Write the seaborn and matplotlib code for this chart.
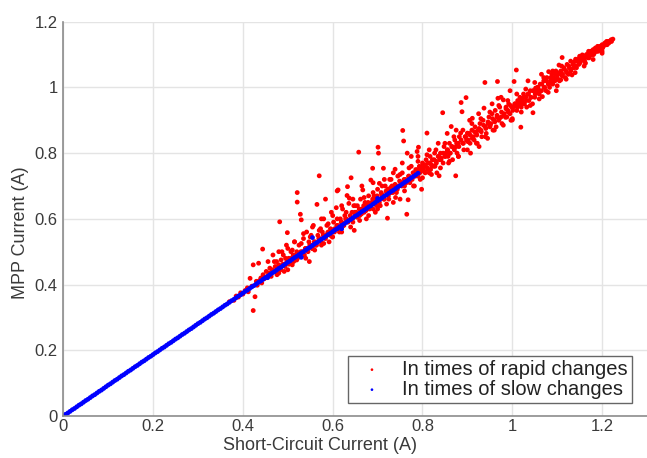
import numpy as np
import pandas as pd
import matplotlib
matplotlib.use('Agg')
import matplotlib.pyplot as plt
import seaborn as sns

# red points: tracking during rapid changes (grouped by x)
red_x = [
    0.37, 0.38, 0.385, 0.39, 0.395, 0.40,
    0.405, 0.41, 0.412, 0.416, 0.42, 0.423, 0.423, 0.427, 0.43, 0.432, 0.435, 0.437, 0.44, 0.442, 0.444, 0.445, 0.448,
    0.452, 0.455, 0.456, 0.46, 0.462, 0.465, 0.467, 0.47, 0.472, 0.475, 0.476, 0.48, 0.482, 0.483, 0.485, 0.487, 0.49, 0.492, 0.495, 0.497, 0.499, 0.5,
    0.502, 0.505, 0.507, 0.51, 0.512, 0.515, 0.517, 0.52, 0.521, 0.521, 0.523, 0.525, 0.527, 0.528, 0.53, 0.532, 0.535, 0.537, 0.54, 0.542, 0.545, 0.547, 0.55, 0.548,
    0.552, 0.555, 0.557, 0.56, 0.562, 0.565, 0.567, 0.57, 0.571, 0.573, 0.575, 0.577, 0.58, 0.582, 0.584, 0.585, 0.587, 0.59, 0.592, 0.595, 0.597, 0.6, 0.599,
    0.602, 0.605, 0.608, 0.61, 0.611, 0.612, 0.615, 0.617, 0.62, 0.622, 0.625, 0.627, 0.63, 0.632, 0.633, 0.636, 0.637, 0.64, 0.641, 0.643, 0.645, 0.647, 0.65, 0.648,
    0.652, 0.655, 0.658, 0.66, 0.662, 0.665, 0.667, 0.67, 0.672, 0.675, 0.677, 0.68, 0.682, 0.685, 0.687, 0.689, 0.69, 0.692, 0.695, 0.697, 0.7, 0.698,
    0.701, 0.702, 0.703, 0.704, 0.706, 0.708, 0.71, 0.713, 0.715, 0.717, 0.72, 0.722, 0.723, 0.725, 0.727, 0.73, 0.732, 0.735, 0.737, 0.739, 0.74, 0.742, 0.745, 0.747, 0.75,
    0.752, 0.755, 0.756, 0.758, 0.76, 0.762, 0.765, 0.766, 0.768, 0.77, 0.772, 0.775, 0.777, 0.78, 0.782, 0.785, 0.788, 0.79, 0.791, 0.793, 0.795, 0.797, 0.8, 0.798,
    0.802, 0.804, 0.806, 0.808, 0.81, 0.811, 0.813, 0.815, 0.817, 0.82, 0.822, 0.825, 0.827, 0.83, 0.832, 0.835, 0.837, 0.838, 0.84, 0.842, 0.845, 0.846, 0.848, 0.85, 0.828, 0.818,
    0.852, 0.855, 0.857, 0.86, 0.862, 0.864, 0.865, 0.867, 0.87, 0.872, 0.874, 0.875, 0.877, 0.88, 0.882, 0.885, 0.886, 0.888, 0.89, 0.892, 0.895, 0.897, 0.898, 0.9, 0.858, 0.88,
    0.902, 0.904, 0.906, 0.907, 0.91, 0.911, 0.913, 0.915, 0.917, 0.92, 0.922, 0.924, 0.926, 0.928, 0.93, 0.932, 0.935, 0.937, 0.939, 0.94, 0.942, 0.945, 0.946, 0.948, 0.95,
    0.952, 0.955, 0.957, 0.96, 0.962, 0.964, 0.966, 0.967, 0.968, 0.97, 0.972, 0.975, 0.977, 0.98, 0.982, 0.985, 0.986, 0.988, 0.99, 0.992, 0.995, 0.997, 1.0, 0.999,
    1.002, 1.004, 1.006, 1.009, 1.01, 1.012, 1.015, 1.017, 1.019, 1.019, 1.02, 1.022, 1.025, 1.027, 1.03, 1.032, 1.035, 1.037, 1.04, 1.042, 1.045, 1.046, 1.048, 1.05, 1.052,
    1.055, 1.057, 1.06, 1.062, 1.065, 1.067, 1.07, 1.072, 1.075, 1.077, 1.08, 1.081, 1.083, 1.085, 1.088, 1.09, 1.092, 1.095, 1.097, 1.1, 1.104, 1.098,
    1.102, 1.105, 1.108, 1.108, 1.111, 1.112, 1.115, 1.118, 1.12, 1.122, 1.125, 1.127, 1.13, 1.133, 1.135, 1.137, 1.14, 1.141, 1.143, 1.145, 1.148, 1.15,
    1.152, 1.155, 1.156, 1.158, 1.16, 1.163, 1.165, 1.168, 1.17, 1.172, 1.175, 1.178, 1.18, 1.183, 1.185, 1.188, 1.19, 1.193, 1.195, 1.198, 1.2, 1.2,
    1.203, 1.205, 1.208, 1.21, 1.213, 1.215, 1.218, 1.22, 1.224,
]
red_y = [
    0.348, 0.352, 0.365, 0.362, 0.375, 0.371,
    0.382, 0.39, 0.378, 0.419, 0.395, 0.321, 0.46, 0.363, 0.41, 0.398, 0.465, 0.412, 0.42, 0.405, 0.508, 0.43, 0.418,
    0.44, 0.425, 0.47, 0.45, 0.43, 0.445, 0.49, 0.44, 0.455, 0.47, 0.43, 0.46, 0.591, 0.45, 0.475, 0.50, 0.46, 0.44, 0.48, 0.52, 0.558, 0.465,
    0.48, 0.47, 0.50, 0.46, 0.49, 0.53, 0.475, 0.50, 0.68, 0.651, 0.49, 0.52, 0.485, 0.614, 0.597, 0.50, 0.54, 0.49, 0.51, 0.56, 0.50, 0.53, 0.52, 0.47,
    0.55, 0.51, 0.58, 0.53, 0.52, 0.644, 0.55, 0.731, 0.54, 0.57, 0.52, 0.56, 0.60, 0.545, 0.66, 0.55, 0.58, 0.56, 0.53, 0.57, 0.62, 0.56, 0.545,
    0.59, 0.57, 0.634, 0.685, 0.58, 0.688, 0.56, 0.60, 0.59, 0.63, 0.58, 0.61, 0.60, 0.671, 0.698, 0.647, 0.663, 0.60, 0.725, 0.62, 0.59, 0.64, 0.61, 0.565,
    0.62, 0.64, 0.803, 0.61, 0.66, 0.63, 0.688, 0.62, 0.65, 0.60, 0.64, 0.67, 0.63, 0.718, 0.65, 0.754, 0.63, 0.67, 0.62, 0.66, 0.69, 0.64,
    0.818, 0.80, 0.66, 0.708, 0.64, 0.68, 0.67, 0.754, 0.66, 0.70, 0.68, 0.602, 0.69, 0.66, 0.72, 0.68, 0.70, 0.65, 0.69, 0.751, 0.70, 0.68, 0.73, 0.70, 0.66,
    0.71, 0.74, 0.869, 0.837, 0.70, 0.72, 0.614, 0.80, 0.658, 0.73, 0.71, 0.76, 0.72, 0.74, 0.70, 0.75, 0.805, 0.73, 0.818, 0.76, 0.72, 0.75, 0.77, 0.69,
    0.75, 0.76, 0.74, 0.78, 0.861, 0.755, 0.77, 0.74, 0.79, 0.765, 0.78, 0.76, 0.80, 0.775, 0.74, 0.79, 0.731, 0.78, 0.80, 0.785, 0.923, 0.77, 0.82, 0.79, 0.76, 0.75,
    0.80, 0.81, 0.79, 0.83, 0.80, 0.881, 0.82, 0.78, 0.815, 0.84, 0.731, 0.82, 0.80, 0.83, 0.85, 0.861, 0.954, 0.926, 0.83, 0.81, 0.85, 0.969, 0.84, 0.861, 0.77, 0.79,
    0.84, 0.86, 0.83, 0.80, 0.87, 0.906, 0.85, 0.84, 0.88, 0.86, 0.83, 0.87, 0.82, 0.89, 0.87, 0.85, 0.90, 0.937, 1.015, 0.88, 0.86, 0.845, 0.89, 0.91, 0.88,
    0.89, 0.92, 0.87, 0.90, 0.93, 0.88, 0.91, 1.018, 0.967, 0.90, 0.94, 0.91, 0.89, 0.962, 0.92, 0.909, 0.94, 0.91, 0.93, 0.95, 0.92, 0.90, 0.901, 0.94,
    0.94, 1.018, 0.95, 1.053, 0.93, 0.96, 0.95, 0.97, 0.962, 0.879, 0.94, 0.96, 0.98, 0.95, 0.97, 0.94, 0.98, 0.96, 0.99, 0.97, 0.95, 0.923, 0.99, 0.97, 0.998,
    0.99, 1.00, 0.98, 1.01, 0.99, 0.972, 1.02, 1.00, 0.99, 1.03, 1.01, 1.048, 1.00, 1.02, 1.04, 1.01, 1.03, 1.02, 1.05, 1.03, 1.068, 0.99,
    1.04, 1.02, 1.023, 1.05, 1.091, 1.04, 1.06, 1.03, 1.05, 1.07, 1.04, 1.06, 1.05, 1.038, 1.07, 1.06, 1.08, 1.086, 1.06, 1.08, 1.07, 1.09,
    1.08, 1.095, 1.099, 1.085, 1.09, 1.074, 1.10, 1.09, 1.105, 1.095, 1.11, 1.10, 1.115, 1.105, 1.12, 1.11, 1.12, 1.115, 1.125, 1.12, 1.104, 1.13,
    1.125, 1.13, 1.135, 1.13, 1.14, 1.135, 1.14, 1.145, 1.147,
]

# extra red points packed tightly along the main band
band_x = [
    0.458, 0.463, 0.468, 0.473, 0.478, 0.484, 0.489, 0.494, 0.498,
    0.503, 0.508, 0.513, 0.518, 0.524, 0.529, 0.534, 0.539, 0.544, 0.549, 0.554, 0.559, 0.564, 0.569, 0.574, 0.579, 0.584, 0.589, 0.594, 0.598,
    0.604, 0.609, 0.614, 0.619, 0.624, 0.629, 0.634, 0.639, 0.644, 0.649, 0.654, 0.659, 0.664, 0.669, 0.674, 0.679, 0.684, 0.689, 0.694, 0.699,
    0.704, 0.709, 0.714, 0.719, 0.724, 0.729, 0.734, 0.739, 0.744, 0.749, 0.754, 0.759, 0.764, 0.769, 0.774, 0.779, 0.784, 0.789, 0.794, 0.799,
    0.803, 0.807, 0.812, 0.816, 0.821, 0.826, 0.831, 0.836, 0.841, 0.846, 0.851, 0.856, 0.861, 0.866, 0.871, 0.876, 0.881, 0.886, 0.891, 0.896,
    0.901, 0.906, 0.911, 0.916, 0.921, 0.926, 0.931, 0.936, 0.941, 0.946, 0.951, 0.956, 0.961, 0.966, 0.971, 0.976, 0.981, 0.986, 0.991, 0.996,
    1.001, 1.006, 1.011, 1.016, 1.021, 1.026, 1.031, 1.036, 1.041, 1.046, 1.051, 1.056, 1.061, 1.066, 1.071, 1.076, 1.081, 1.086, 1.091, 1.096,
    1.101, 1.106, 1.111, 1.116, 1.121, 1.126, 1.131, 1.136, 1.141, 1.146, 1.151, 1.156, 1.161, 1.166, 1.171, 1.176, 1.181, 1.186, 1.191, 1.196,
    1.201, 1.206, 1.211, 1.216, 1.221,
]
band_y = [
    0.435, 0.425, 0.442, 0.438, 0.455, 0.445, 0.462, 0.455, 0.47,
    0.462, 0.48, 0.47, 0.49, 0.483, 0.50, 0.49, 0.51, 0.505, 0.52, 0.51, 0.53, 0.52, 0.54, 0.53, 0.55, 0.54, 0.558, 0.55, 0.567,
    0.56, 0.58, 0.57, 0.59, 0.58, 0.60, 0.59, 0.61, 0.60, 0.62, 0.605, 0.63, 0.615, 0.64, 0.625, 0.65, 0.635, 0.66, 0.645, 0.67,
    0.65, 0.675, 0.66, 0.685, 0.67, 0.695, 0.68, 0.705, 0.69, 0.715, 0.70, 0.72, 0.71, 0.73, 0.72, 0.74, 0.73, 0.75, 0.74, 0.76,
    0.745, 0.765, 0.75, 0.77, 0.76, 0.78, 0.77, 0.79, 0.78, 0.80, 0.79, 0.81, 0.80, 0.82, 0.81, 0.83, 0.82, 0.84, 0.83, 0.85,
    0.835, 0.855, 0.845, 0.865, 0.855, 0.875, 0.865, 0.885, 0.875, 0.895, 0.885, 0.905, 0.895, 0.915, 0.905, 0.925, 0.915, 0.935, 0.925, 0.945,
    0.93, 0.95, 0.94, 0.96, 0.95, 0.97, 0.96, 0.98, 0.97, 0.99, 0.98, 1.0, 0.99, 1.01, 1.0, 1.02, 1.01, 1.03, 1.02, 1.04,
    1.025, 1.045, 1.035, 1.055, 1.045, 1.065, 1.055, 1.075, 1.065, 1.085, 1.075, 1.09, 1.08, 1.095, 1.09, 1.105, 1.10, 1.115, 1.11, 1.125,
    1.12, 1.135, 1.13, 1.14, 1.14,
]

# looser red points on both sides of the band
spread_x = [
    0.47, 0.48, 0.49, 0.50, 0.51, 0.52, 0.53, 0.54, 0.55, 0.56, 0.57, 0.58, 0.59, 0.60, 0.61, 0.62, 0.63, 0.64, 0.65, 0.66,
    0.67, 0.68, 0.69, 0.70, 0.71, 0.72, 0.73, 0.74, 0.75, 0.76, 0.77, 0.78, 0.79, 0.80, 0.81, 0.82, 0.83, 0.84, 0.85, 0.86,
    0.87, 0.88, 0.89, 0.90, 0.91, 0.92, 0.93, 0.94, 0.95, 0.96, 0.97, 0.98, 0.99, 1.00, 1.01, 1.02, 1.03, 1.04, 1.05, 1.06,
    1.07, 1.08, 1.09, 1.10, 1.11, 1.12, 1.13, 1.14, 1.15, 1.16, 1.17, 1.18, 1.19, 1.20, 1.21,
    0.835, 0.855, 0.875, 0.905, 0.925, 0.955, 0.975, 0.995, 1.035, 1.065, 0.815, 0.79, 0.775, 0.755,
    0.735, 0.715, 0.69, 0.665, 0.645, 0.62, 0.60, 0.575, 0.555, 0.535, 0.515, 0.50, 0.48,
]
spread_y = [
    0.47, 0.435, 0.49, 0.445, 0.505, 0.475, 0.525, 0.48, 0.545, 0.505, 0.565, 0.525, 0.585, 0.545, 0.60, 0.56, 0.62, 0.575, 0.64, 0.595,
    0.665, 0.61, 0.68, 0.63, 0.70, 0.645, 0.72, 0.665, 0.735, 0.685, 0.755, 0.70, 0.775, 0.725, 0.795, 0.735, 0.81, 0.755, 0.83, 0.775,
    0.85, 0.79, 0.87, 0.81, 0.89, 0.83, 0.905, 0.85, 0.925, 0.87, 0.945, 0.885, 0.96, 0.905, 0.98, 0.925, 0.995, 0.945, 1.015, 0.965,
    1.03, 0.985, 1.05, 1.005, 1.065, 1.025, 1.08, 1.045, 1.095, 1.065, 1.11, 1.085, 1.125, 1.11, 1.14,
    0.83, 0.86, 0.87, 0.90, 0.92, 0.95, 0.97, 0.99, 1.02, 1.04, 0.81, 0.79, 0.79, 0.77,
    0.74, 0.72, 0.71, 0.70, 0.66, 0.64, 0.61, 0.60, 0.575, 0.555, 0.53, 0.51, 0.50,
]

# blue points: tracking during slow changes
blue_x = [
    0.00, 0.01, 0.02, 0.03, 0.04, 0.05, 0.06, 0.07, 0.08, 0.09,
    0.10, 0.11, 0.12, 0.13, 0.14, 0.15, 0.16, 0.17, 0.18, 0.19,
    0.20, 0.21, 0.22, 0.23, 0.24, 0.25, 0.26, 0.27, 0.28, 0.29,
    0.30, 0.31, 0.32, 0.33, 0.34, 0.35, 0.36, 0.37, 0.38, 0.39,
    0.40, 0.41, 0.42, 0.43, 0.44, 0.45, 0.46, 0.47, 0.48, 0.49,
    0.50, 0.51, 0.52, 0.53, 0.54, 0.55, 0.56, 0.57, 0.58, 0.59,
    0.60, 0.61, 0.62, 0.63, 0.64, 0.65, 0.66, 0.67, 0.68, 0.69,
    0.70, 0.71, 0.72, 0.73, 0.74, 0.75, 0.76, 0.77, 0.78, 0.79,
    0.555, 0.530, 0.62, 0.70, 0.455,
]
blue_y = [
    0.000, 0.009, 0.019, 0.028, 0.037, 0.047, 0.056, 0.065, 0.075, 0.084,
    0.094, 0.103, 0.112, 0.122, 0.131, 0.140, 0.150, 0.159, 0.168, 0.178,
    0.187, 0.196, 0.206, 0.215, 0.224, 0.234, 0.243, 0.252, 0.262, 0.271,
    0.281, 0.290, 0.299, 0.309, 0.318, 0.327, 0.337, 0.346, 0.355, 0.365,
    0.374, 0.383, 0.393, 0.402, 0.411, 0.421, 0.430, 0.439, 0.449, 0.458,
    0.468, 0.477, 0.486, 0.496, 0.505, 0.514, 0.524, 0.533, 0.542, 0.552,
    0.561, 0.570, 0.580, 0.589, 0.598, 0.608, 0.617, 0.626, 0.636, 0.645,
    0.655, 0.664, 0.673, 0.683, 0.692, 0.701, 0.711, 0.720, 0.729, 0.739,
    0.543, 0.483, 0.570, 0.662, 0.421,
]
blue_x_mid = [
    0.005, 0.015, 0.025, 0.035, 0.045, 0.055, 0.065, 0.075, 0.085, 0.095,
    0.105, 0.115, 0.125, 0.135, 0.145, 0.155, 0.165, 0.175, 0.185, 0.195,
    0.205, 0.215, 0.225, 0.235, 0.245, 0.255, 0.265, 0.275, 0.285, 0.295,
    0.305, 0.315, 0.325, 0.335, 0.345, 0.355, 0.365, 0.375, 0.385, 0.395,
    0.405, 0.415, 0.425, 0.435, 0.445, 0.455, 0.465, 0.475, 0.485, 0.495,
    0.505, 0.515, 0.525, 0.535, 0.545, 0.555, 0.565, 0.575, 0.585, 0.595,
    0.605, 0.615, 0.625, 0.635, 0.645, 0.655, 0.665, 0.675, 0.685, 0.695,
    0.705, 0.715, 0.725, 0.735, 0.745, 0.755, 0.765, 0.775, 0.785,
]
blue_y_mid = [
    0.005, 0.014, 0.023, 0.033, 0.042, 0.051, 0.061, 0.070, 0.079, 0.089,
    0.098, 0.108, 0.117, 0.126, 0.136, 0.145, 0.154, 0.164, 0.173, 0.182,
    0.192, 0.201, 0.210, 0.220, 0.229, 0.238, 0.248, 0.257, 0.266, 0.276,
    0.285, 0.295, 0.304, 0.313, 0.323, 0.332, 0.341, 0.351, 0.360, 0.369,
    0.379, 0.388, 0.397, 0.407, 0.416, 0.425, 0.435, 0.444, 0.453, 0.463,
    0.472, 0.482, 0.491, 0.500, 0.510, 0.519, 0.528, 0.538, 0.547, 0.556,
    0.566, 0.575, 0.584, 0.594, 0.603, 0.612, 0.622, 0.631, 0.640, 0.650,
    0.659, 0.669, 0.678, 0.687, 0.697, 0.706, 0.715, 0.725, 0.734,
]

x_ticks = [0, 0.2, 0.4, 0.6, 0.8, 1.0, 1.2]
x_tick_labels = ['0', '0.2', '0.4', '0.6', '0.8', '1', '1.2']
y_ticks = [0, 0.2, 0.4, 0.6, 0.8, 1.0, 1.2]
y_tick_labels = ['0', '0.2', '0.4', '0.6', '0.8', '1', '1.2']

df_red = pd.DataFrame({'isc': red_x + band_x + spread_x,
                       'impp': red_y + band_y + spread_y})
df_blue = pd.DataFrame({'isc': blue_x + blue_x_mid, 'impp': blue_y + blue_y_mid})

sns.set_style('white')
plt.rcParams['font.family'] = ['Liberation Sans', 'DejaVu Sans']

fig = plt.figure(figsize=(6.47, 4.58), dpi=100)
ax = fig.add_axes([0.0978, 0.0917, 0.9022, 0.8609])

sns.scatterplot(data=df_red, x='isc', y='impp', color='#ff0000', s=12,
                edgecolor='none', linewidth=0, ax=ax,
                label='In times of rapid changes')
sns.scatterplot(data=df_blue, x='isc', y='impp', color='#0000ff', s=12,
                edgecolor='none', linewidth=0, ax=ax,
                label='In times of slow changes')

ax.set_xlim(0, 1.3)
ax.set_ylim(0, 1.2)
ax.set_xticks(x_ticks)
ax.set_xticklabels(x_tick_labels)
ax.set_yticks(y_ticks)
ax.set_yticklabels(y_tick_labels)
ax.grid(True, color='#e4e4e4', linewidth=1)
ax.set_axisbelow(True)

for side in ['top', 'right']:
    ax.spines[side].set_visible(False)
for side in ['left', 'bottom']:
    ax.spines[side].set_color('#8c8c8c')
    ax.spines[side].set_linewidth(1.2)
ax.tick_params(direction='in', length=3, width=1, color='#8c8c8c',
               labelsize=12, labelcolor='#3a3a3a', pad=4)
ax.tick_params(axis='x', pad=2.5)

ax.set_xlabel('Short-Circuit Current (A)', fontsize=13, color='#3a3a3a')
ax.set_ylabel('MPP Current (A)', fontsize=13, color='#3a3a3a')
ax.xaxis.set_label_coords(0.439, -0.052)
ax.yaxis.set_label_coords(-0.058, 0.465)

leg = ax.legend(loc='lower right', bbox_to_anchor=(0.974, 0.033),
                borderaxespad=0, fontsize=14.5, markerscale=0.55,
                handletextpad=0.5, borderpad=0.2, labelspacing=0.05,
                handlelength=2.0, fancybox=False, framealpha=1,
                edgecolor='#666666')
leg.get_frame().set_linewidth(1.0)
for t in leg.get_texts():
    t.set_color('#222222')

fig.savefig('out.png', dpi=100)
